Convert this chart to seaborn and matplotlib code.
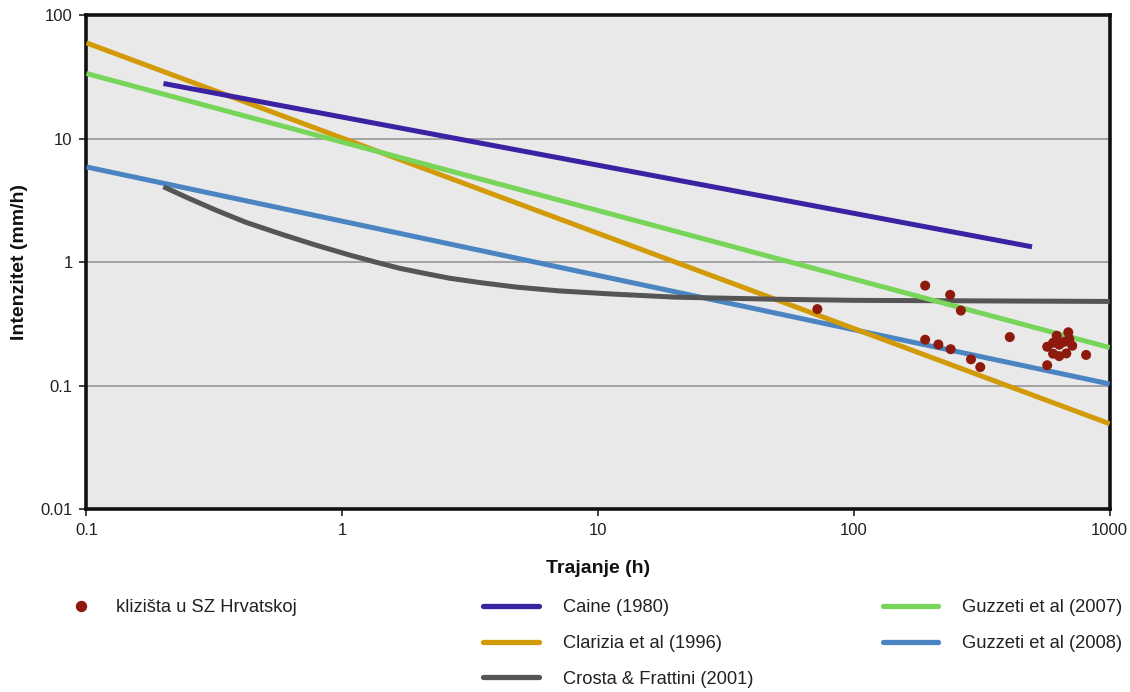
import numpy as np
import pandas as pd
import matplotlib
matplotlib.use("Agg")
import matplotlib.pyplot as plt
from matplotlib.ticker import FixedLocator, FixedFormatter, NullLocator
from matplotlib.lines import Line2D
import seaborn as sns

# Observed landslides in NW Croatia: duration (h) and mean rainfall intensity (mm/h)
slide_duration = [72, 190, 238, 262, 190, 214, 239, 287, 312, 407, 570, 809,
                  621, 689, 695, 570, 601, 635, 677, 714, 635, 601, 664]
slide_intensity = [0.416, 0.645, 0.543, 0.405, 0.235, 0.215, 0.197, 0.163, 0.141,
                   0.247, 0.146, 0.177, 0.253, 0.270, 0.239, 0.206, 0.181, 0.173,
                   0.182, 0.210, 0.214, 0.222, 0.226]

# Threshold curves (duration h, intensity mm/h)
caine_d = [0.2, 497]
caine_i = [28.0, 1.33]
clarizia_d = [0.1, 1000]
clarizia_i = [59.7, 0.049]
crosta_d = [0.2, 0.25, 0.32, 0.42, 0.59, 0.8, 1.07, 1.35, 1.68, 2.1, 2.63, 3.5,
            4.8, 7, 11, 20, 50, 100, 300, 1000]
crosta_i = [4.08, 3.30, 2.64, 2.10, 1.66, 1.36, 1.14, 1.00, 0.89, 0.81, 0.74, 0.68,
            0.627, 0.585, 0.553, 0.52, 0.50, 0.49, 0.485, 0.48]
guzz07_d = [0.1, 1000]
guzz07_i = [33.7, 0.203]
guzz08_d = [0.1, 1000]
guzz08_i = [5.9, 0.103]

x_ticks = [0.1, 1, 10, 100, 1000]
x_tick_labels = ["0.1", "1", "10", "100", "1000"]
y_ticks = [0.01, 0.1, 1, 10, 100]
y_tick_labels = ["0.01", "0.1", "1", "10", "100"]

series = [
    ("Caine (1980)", caine_d, caine_i, "#3b22a3"),
    ("Clarizia et al (1996)", clarizia_d, clarizia_i, "#d19a06"),
    ("Crosta & Frattini (2001)", crosta_d, crosta_i, "#555555"),
    ("Guzzeti et al (2007)", guzz07_d, guzz07_i, "#77d55a"),
    ("Guzzeti et al (2008)", guzz08_d, guzz08_i, "#4b84c2"),
]

sns.set_theme(style="white")
plt.rcParams["font.family"] = ["Liberation Sans", "DejaVu Sans"]

fig = plt.figure(figsize=(11.30, 6.92), dpi=100)
ax = fig.add_axes([0.0765, 0.2645, 0.9055, 0.7135])
ax.set_facecolor("#e9e9e9")

ax.set_xscale("log")
ax.set_yscale("log")
ax.set_xlim(0.1, 1000)
ax.set_ylim(0.01, 100)

for yv in [0.1, 1, 10]:
    ax.axhline(yv, color="#a3a3a3", lw=1.4, zorder=1)

# Draw order: Guzzetti 2008, Clarizia, Crosta, Guzzetti 2007, Caine
order = [4, 1, 2, 3, 0]
for idx in order:
    name, d, i, col = series[idx]
    df = pd.DataFrame({"d": d, "i": i})
    sns.lineplot(data=df, x="d", y="i", ax=ax, color=col, lw=3.6,
                 sort=False, estimator=None, zorder=3,
                 solid_joinstyle="round", solid_capstyle="butt")

pts = pd.DataFrame({"d": slide_duration, "i": slide_intensity})
sns.scatterplot(data=pts, x="d", y="i", ax=ax, color="#8e1a0e", s=52,
                edgecolor="none", zorder=5)

ax.xaxis.set_major_locator(FixedLocator(x_ticks))
ax.xaxis.set_major_formatter(FixedFormatter(x_tick_labels))
ax.xaxis.set_minor_locator(NullLocator())
ax.yaxis.set_major_locator(FixedLocator(y_ticks))
ax.yaxis.set_major_formatter(FixedFormatter(y_tick_labels))
ax.yaxis.set_minor_locator(NullLocator())
ax.tick_params(axis="both", which="major", direction="out", length=5, width=1.2,
               color="#222222", labelsize=12, labelcolor="#222222", pad=5,
               bottom=True, left=True)

for sp in ax.spines.values():
    sp.set_visible(True)
    sp.set_color("#111111")
    sp.set_linewidth(2.6)

ax.set_xlabel("Trajanje (h)", fontsize=14, fontweight="bold", labelpad=16, color="#111111")
ax.set_ylabel("Intenzitet (mm/h)", fontsize=14, fontweight="bold", labelpad=9, color="#111111")

leg_kw = dict(frameon=False, fontsize=13.2, handlelength=3.05, handletextpad=1.3,
              labelspacing=1.02, borderaxespad=0, borderpad=0)

h_pts = [Line2D([], [], ls="none", marker="o", ms=7.2, color="#8e1a0e")]
leg1 = fig.legend(h_pts, ["klizišta u SZ Hrvatskoj"], loc="upper left",
                  bbox_to_anchor=(0.047, 0.134), **{**leg_kw, "handletextpad": 0.4})

h_mid = [Line2D([], [], color=series[k][3], lw=3.8) for k in (0, 1, 2)]
leg2 = fig.legend(h_mid, [series[k][0] for k in (0, 1, 2)], loc="upper left",
                  bbox_to_anchor=(0.4274, 0.134), **leg_kw)

h_right = [Line2D([], [], color=series[k][3], lw=3.8) for k in (3, 4)]
leg3 = fig.legend(h_right, [series[k][0] for k in (3, 4)], loc="upper left",
                  bbox_to_anchor=(0.781, 0.134), **leg_kw)

for lg in (leg1, leg2, leg3):
    for t in lg.get_texts():
        t.set_color("#222222")

fig.savefig("out.png", dpi=100, facecolor="white")
